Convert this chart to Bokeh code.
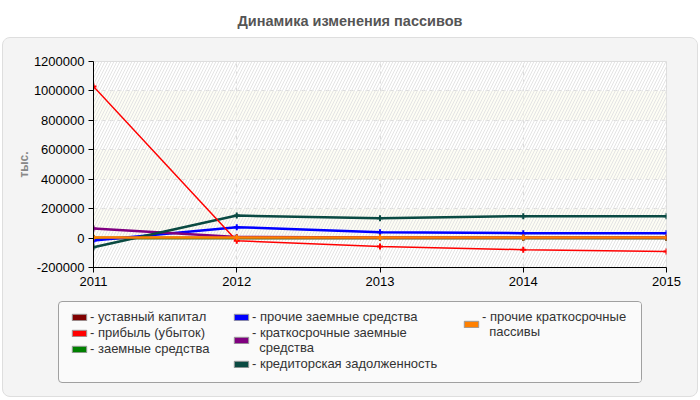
from bokeh.plotting import figure
from bokeh.layouts import column, row
from bokeh.models import (Div, FixedTicker, NumeralTickFormatter, Legend, LegendItem,
                          BoxAnnotation, ColumnDataSource, Range1d, Spacer)
from bokeh.embed import file_html
from bokeh.resources import INLINE

title = "Динамика изменения пассивов"
y_label = "тыс."
years = [2011, 2012, 2013, 2014, 2015]
y_ticks = [-200000, 0, 200000, 400000, 600000, 800000, 1000000, 1200000]

ustavny = [100, 100, 100, 100, 100]
pribyl = [1030000, -18000, -57000, -79000, -91000]
zaemnye = [0, 0, 0, 0, 0]
prochie_zaemnye = [-16000, 74000, 40000, 33000, 33000]
kratkosrochnye_zaemnye = [65000, 8000, 4000, 4000, 4000]
kreditorskaya = [-62000, 153000, 135000, 149000, 149000]
prochie_kratkosrochnye = [4000, 4000, 4000, 4000, 4000]

series = [
    ("- уставный капитал", ustavny, "#800000", 2.5),
    ("- прибыль (убыток)", pribyl, "#ff0000", 1.5),
    ("- заемные средства", zaemnye, "#008000", 2.5),
    ("- прочие заемные средства", prochie_zaemnye, "#0000ff", 2.5),
    ("- краткосрочные заемные\n  средства", kratkosrochnye_zaemnye, "#800080", 2.5),
    ("- кредиторская задолженность", kreditorskaya, "#0a4a42", 2.5),
    ("- прочие краткосрочные\n  пассивы", prochie_kratkosrochnye, "#ff8000", 2.5),
]
draw_order = [0, 2, 3, 4, 5, 1, 6]
legend_columns = [[0, 1, 2], [3, 4, 5], [6]]
legend_col_widths = [162, 230, 186]

FONT = "Liberation Sans"

head = Div(text=f'<div style="width:700px;text-align:center;font-family:{FONT};'
                f'font-weight:bold;font-size:14.5px;color:#555;padding-top:11px;">{title}</div>',
           width=700, height=37, margin=(0, 0, 0, 0))

p = figure(width=694, height=255, output_backend="svg", toolbar_location=None,
           x_range=Range1d(2011, 2015), y_range=Range1d(-200000, 1200000),
           min_border_left=90, min_border_right=31, min_border_top=23, min_border_bottom=26,
           margin=(0, 0, 0, 0))
p.border_fill_color = "#f4f4f4"
p.background_fill_color = "#ffffff"
p.outline_line_color = "#dddddd"

p.add_layout(BoxAnnotation(fill_alpha=0, line_alpha=0, hatch_pattern="/", hatch_color="#e4e4e4",
                           hatch_scale=6, hatch_weight=1, level="underlay"))

p.xaxis.ticker = FixedTicker(ticks=years)
p.yaxis.ticker = FixedTicker(ticks=y_ticks)
p.yaxis.formatter = NumeralTickFormatter(format="0")
for ax in (p.xaxis, p.yaxis):
    ax.major_label_text_font = FONT
    ax.major_label_text_font_size = "13px"
    ax.major_label_text_color = "#000000"
    ax.axis_line_color = "#000000"
    ax.major_tick_line_color = "#000000"
    ax.major_tick_out = 5
    ax.major_tick_in = 0
    ax.minor_tick_line_color = None
    ax.major_label_standoff = 4
p.yaxis.axis_label = y_label
p.yaxis.axis_label_text_font = FONT
p.yaxis.axis_label_text_font_size = "12px"
p.yaxis.axis_label_text_font_style = "bold"
p.yaxis.axis_label_text_color = "#888888"
p.yaxis.axis_label_standoff = 0

for g in (p.xgrid, p.ygrid):
    g.grid_line_color = "#dddddd"
    g.grid_line_dash = "4 4"
    g.grid_line_width = 1
p.ygrid.band_fill_color = "#fbfbec"
p.ygrid.band_fill_alpha = 0.6

src = ColumnDataSource(dict(x=years, **{f"s{i}": s[1] for i, s in enumerate(series)}))
for i in draw_order:
    label, vals, color, lw = series[i]
    p.line("x", f"s{i}", source=src, line_color=color, line_width=lw)
    p.scatter("x", f"s{i}", source=src, marker="cross", size=6, line_color=color, line_width=2)

# legend: three columns, each a small transparent figure holding a vertical legend
nan = float("nan")
cols = [Spacer(width=4, height=80, margin=(0, 0, 0, 0))]
for idxs, w in zip(legend_columns, legend_col_widths):
    f = figure(width=w, height=80, output_backend="svg", toolbar_location=None,
               x_axis_location=None, y_axis_location=None, min_border=0, margin=(0, 0, 0, 0))
    f.grid.visible = False
    f.outline_line_color = None
    f.background_fill_color = "#fafafa"
    f.border_fill_color = "#fafafa"
    items = []
    for i in idxs:
        label, vals, color, lw = series[i]
        dummy = f.quad(left=[nan], right=[nan], top=[nan], bottom=[nan],
                       fill_color=color, line_color="#999999")
        items.append(LegendItem(label=label, renderers=[dummy]))
    lg = Legend(items=items, orientation="vertical", location="top_left",
                label_text_font=FONT, label_text_font_size="13px", label_text_color="#333333",
                label_text_line_height=1.0,
                glyph_width=18, glyph_height=8, label_standoff=2, label_height=13,
                spacing=1, padding=0, margin=7,
                border_line_color=None, background_fill_alpha=0)
    f.add_layout(lg, "center")
    cols.append(f)

legend_box = row(*cols, margin=(8, 55, 13, 55),
                 styles={"border": "1px solid #a0a0a0", "border-radius": "4px",
                         "background-color": "#fafafa", "overflow": "hidden"})

panel = column(p, legend_box, margin=(0, 2, 0, 2),
               styles={"border-radius": "8px", "border": "1px solid #dedede",
                       "background-color": "#f4f4f4", "overflow": "hidden"})
layout = column(head, panel, margin=(0, 0, 0, 0))
open("out.html", "w").write(file_html(layout, INLINE))
